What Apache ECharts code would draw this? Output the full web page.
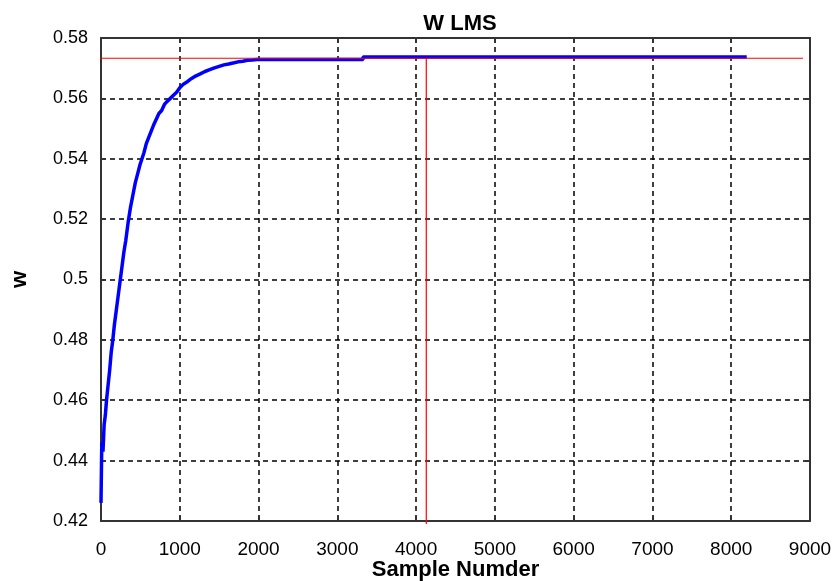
<!DOCTYPE html>
<html>
<head>
<meta charset="utf-8">
<script src="https://cdn.jsdelivr.net/npm/echarts@6/dist/echarts.min.js"></script>
<style>
  html, body { margin: 0; padding: 0; background: #fff; }
  #main { width: 833px; height: 581px; }
</style>
</head>
<body>
<div id="main"></div>
<script>
var chart = echarts.init(document.getElementById('main'));

// weight estimate (sample index, w)
var sampleIdx = [0, 10, 25, 40, 55, 70, 90, 110, 130, 150, 170, 190, 215, 240, 265, 290, 315, 345, 375, 405,
  435, 465, 495, 520, 545, 575, 605, 635, 665, 700, 735, 770, 805, 840, 880, 920, 960, 1000, 1050, 1100,
  1150, 1200, 1260, 1320, 1380, 1440, 1500, 1560, 1620, 1690, 1740, 1800, 1860, 1920, 1980, 3326, 3326, 8197];
var wValues = [0.426, 0.446, 0.443, 0.452, 0.455, 0.460, 0.465, 0.470, 0.476, 0.480, 0.485, 0.489, 0.494, 0.499, 0.504, 0.509, 0.513, 0.519, 0.524, 0.528,
  0.532, 0.535, 0.538, 0.540, 0.542, 0.545, 0.547, 0.549, 0.551, 0.553, 0.555, 0.556, 0.558, 0.559, 0.560, 0.561, 0.562, 0.5635, 0.5648, 0.5656,
  0.5666, 0.5674, 0.5681, 0.5689, 0.5695, 0.5701, 0.5706, 0.5711, 0.5714, 0.5718, 0.5721, 0.5723, 0.5726, 0.5727, 0.5729, 0.5729, 0.5737, 0.5737];

// red reference lines
var hLine = [[-105, 0.5733], [8911, 0.5733]];
var vLine = [[4129, 0.5733], [4129, 0.419]];

var xTicks = { min: 0, max: 9000, interval: 1000 };
var yTicks = { min: 0.42, max: 0.58, interval: 0.02 };

var wData = sampleIdx.map(function (n, i) { return [n, wValues[i]]; });

var font = 'Liberation Sans, Arial, sans-serif';
var gridLine = { show: true, lineStyle: { color: '#000', type: [5, 4], width: 1.5 } };
var boxLine = { show: true, onZero: false, lineStyle: { color: '#333', width: 2 } };
var inTick = { show: true, inside: true, length: 5, lineStyle: { color: '#333', width: 2 } };

option = {
    backgroundColor: '#fff',
    animation: false,
    title: {
        text: 'W LMS',
        left: 455,
        top: 8,
        textAlign: 'center',
        textStyle: { fontFamily: font, fontSize: 22, fontWeight: 'bold', color: '#000' }
    },
    grid: { left: 101, right: 23, top: 38, bottom: 60, outerBoundsMode: 'none', containLabel: false },
    xAxis: [{
        type: 'value',
        min: xTicks.min, max: xTicks.max, interval: xTicks.interval,
        name: 'Sample Numder',
        nameLocation: 'middle',
        nameGap: 38,
        nameMoveOverlap: false,
        nameTextStyle: { fontFamily: font, fontSize: 22, fontWeight: 'bold', color: '#000' },
        axisLine: boxLine,
        axisTick: inTick,
        axisLabel: { margin: 19, fontFamily: font, fontSize: 19, color: '#000',
            formatter: function (v) { return String(v); } },
        splitLine: gridLine
    }, {
        type: 'value', position: 'top',
        min: xTicks.min, max: xTicks.max, interval: xTicks.interval,
        axisLine: boxLine, axisTick: inTick,
        axisLabel: { show: false }, splitLine: { show: false }
    }],
    yAxis: [{
        type: 'value',
        min: yTicks.min, max: yTicks.max, interval: yTicks.interval,
        name: 'w',
        nameLocation: 'middle',
        nameGap: 70,
        nameMoveOverlap: false,
        nameTextStyle: { fontFamily: font, fontSize: 22, fontWeight: 'bold', color: '#000' },
        axisLine: boxLine,
        axisTick: inTick,
        axisLabel: { margin: 13, fontFamily: font, fontSize: 18, color: '#000' },
        splitLine: gridLine
    }, {
        type: 'value', position: 'right',
        min: yTicks.min, max: yTicks.max, interval: yTicks.interval,
        axisLine: boxLine, axisTick: inTick,
        axisLabel: { show: false }, splitLine: { show: false }
    }],
    series: [{
        name: 'w',
        type: 'line',
        showSymbol: false,
        data: wData,
        lineStyle: { color: '#0000ff', width: 3.5 },
        z: 3
    }, {
        type: 'line',
        showSymbol: false,
        clip: false,
        data: hLine,
        lineStyle: { color: '#ff0000', width: 1.2 },
        z: 4
    }, {
        type: 'line',
        showSymbol: false,
        clip: false,
        data: vLine,
        lineStyle: { color: '#ff0000', width: 1.2 },
        z: 4
    }]
};

chart.setOption(option);
</script>
</body>
</html>
